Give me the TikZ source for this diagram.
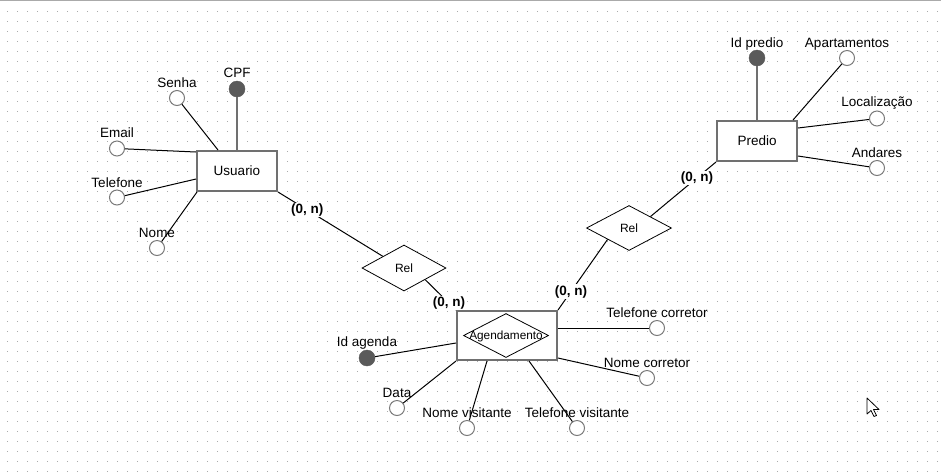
\documentclass[tikz,border=0pt]{standalone}
\usepackage{fontspec}
\setmainfont{Liberation Sans}
\usetikzlibrary{shapes.geometric}
\definecolor{dotc}{HTML}{AAAAAA}
\definecolor{boxc}{HTML}{707070}
\definecolor{keyc}{HTML}{5A5A5A}
\definecolor{attc}{HTML}{7A7A7A}
\tikzset{
  entity/.style={draw=boxc, line width=2pt, fill=white, minimum width=80pt, minimum height=40pt, inner sep=0pt, font=\fontsize{13.5}{16}\selectfont},
  relbox/.style={draw, line width=0.8pt, fill=white, diamond, inner sep=0pt, font=\fontsize{12}{14}\selectfont},
  attr/.style={circle, draw=attc, line width=1pt, fill=white, minimum size=15pt, inner sep=0pt},
  keyattr/.style={circle, draw=keyc, fill=keyc, minimum size=16pt, inner sep=0pt},
  lbl/.style={inner sep=0pt, font=\fontsize{13.5}{16}\selectfont},
  card/.style={fill=white, inner sep=1pt, font=\fontsize{13.5}{16}\selectfont\bfseries},
  conn/.style={line width=1pt},
  keyconn/.style={draw=boxc, line width=2pt},
}
\begin{document}
\begin{tikzpicture}[x=1pt, y=-1pt]
\useasboundingbox[fill=white] (0,0) rectangle (941,475);
% grid dots
\foreach \j in {0,...,46}{
  \draw[dotc, line width=1pt, dash pattern=on 1pt off 9pt] (7,11.5+10*\j) -- (941,11.5+10*\j);
}
\draw[dotc, line width=2pt] (0,0) -- (941,0);

% entities
\node[entity] (usuario) at (237,171) {Usuario};
\node[entity] (predio) at (757,141) {Predio};
\node[entity, minimum width=100pt, minimum height=49pt] (agend) at (507,335.5) {};
\node[relbox, minimum width=85pt, minimum height=44pt] (agdia) at (506,335.5) {};
\node[inner sep=0pt, font=\fontsize{11.8}{14}\selectfont] (agtxt) at (506,336) {Agendamento};

% relationships
\node[relbox, minimum width=84pt, minimum height=46pt] (rel1) at (404,268) {Rel};
\node[relbox, minimum width=85pt, minimum height=45pt] (rel2) at (629,228) {Rel};

% Usuario attributes
\node[keyattr] (cpf) at (237,89) {};
\node[lbl] (cpfL) at (237,73) {CPF};
\node[attr] (senha) at (177,98) {};
\node[lbl] (senhaL) at (177,83) {Senha};
\node[attr] (email) at (117,148.5) {};
\node[lbl] (emailL) at (117,133) {Email};
\node[attr] (tel) at (117,197.5) {};
\node[lbl] (telL) at (117,183) {Telefone};
\node[attr] (nome) at (157,248) {};
\node[lbl] (nomeL) at (157,233) {Nome};

\draw[keyconn] (cpf) -- (usuario.north);
\draw[conn] (senha) -- ([xshift=22pt]usuario.north west);
\draw[conn] (email) -- ([yshift=-2pt]usuario.north west);
\draw[conn] (tel) -- ([yshift=13pt]usuario.south west);
\draw[conn] (nome) -- ([xshift=1pt]usuario.south west);

% Predio attributes
\node[keyattr] (idp) at (757,58) {};
\node[lbl] (idpL) at (757,44) {Id predio};
\node[attr] (apt) at (847,58) {};
\node[lbl] (aptL) at (847,44) {Apartamentos};
\node[attr] (loc) at (877,118.5) {};
\node[lbl] (locL) at (877,103) {Localização};
\node[attr] (and) at (877,168) {};
\node[lbl] (andL) at (877,153) {Andares};

\draw[keyconn] (idp) -- (predio.north);
\draw[conn] (apt) -- ([xshift=-5pt]predio.north east);
\draw[conn] (loc) -- ([yshift=-8pt]predio.north east);
\draw[conn] (and) -- ([yshift=6pt]predio.south east);

% Agendamento attributes
\node[keyattr] (ida) at (367,358) {};
\node[lbl] (idaL) at (367,343) {Id agenda};
\node[attr] (data) at (397,408) {};
\node[lbl] (dataL) at (397,393) {Data};
\node[attr] (nvis) at (467,428) {};
\node[lbl] (nvisL) at (467,413) {Nome visitante};
\node[attr] (tvis) at (577,428) {};
\node[lbl] (tvisL) at (577,413) {Telefone visitante};
\node[attr] (tcor) at (657,328) {};
\node[lbl] (tcorL) at (657,313) {Telefone corretor};
\node[attr] (ncor) at (647,378) {};
\node[lbl] (ncorL) at (647,363) {Nome corretor};

\draw[conn] (ida) -- ([yshift=18pt]agend.south west);
\draw[conn] (data) -- (agend.south west);
\draw[conn] (nvis) -- ([xshift=31pt]agend.south west);
\draw[conn] (tvis) -- ([xshift=73pt]agend.south west);
\draw[conn] (tcor) -- ([yshift=-18pt]agend.north east);
\draw[conn] (ncor) -- ([yshift=3pt]agend.south east);

% relationship connectors
\draw[conn] (usuario.south east) -- node[card, pos=0.28] (c1) {(0, n)} (rel1.north west);
\draw[conn] (rel1.south east) -- node[card, pos=0.77] (c2) {(0, n)} (agend.north west);
\draw[conn] (rel2.south west) -- node[card, pos=0.74] (c3) {(0, n)} (agend.north east);
\draw[conn] (rel2.north east) -- node[card, pos=0.71] (c4) {(0, n)} (predio.south west);

% mouse cursor
\draw[fill=white, line width=0.8pt, line join=round] (867,398) -- (867,414) -- (871,410.5) -- (874,416.5) -- (876.5,415.5) -- (873.5,409.5) -- (879,409.5) -- cycle;
\end{tikzpicture}
\end{document}
